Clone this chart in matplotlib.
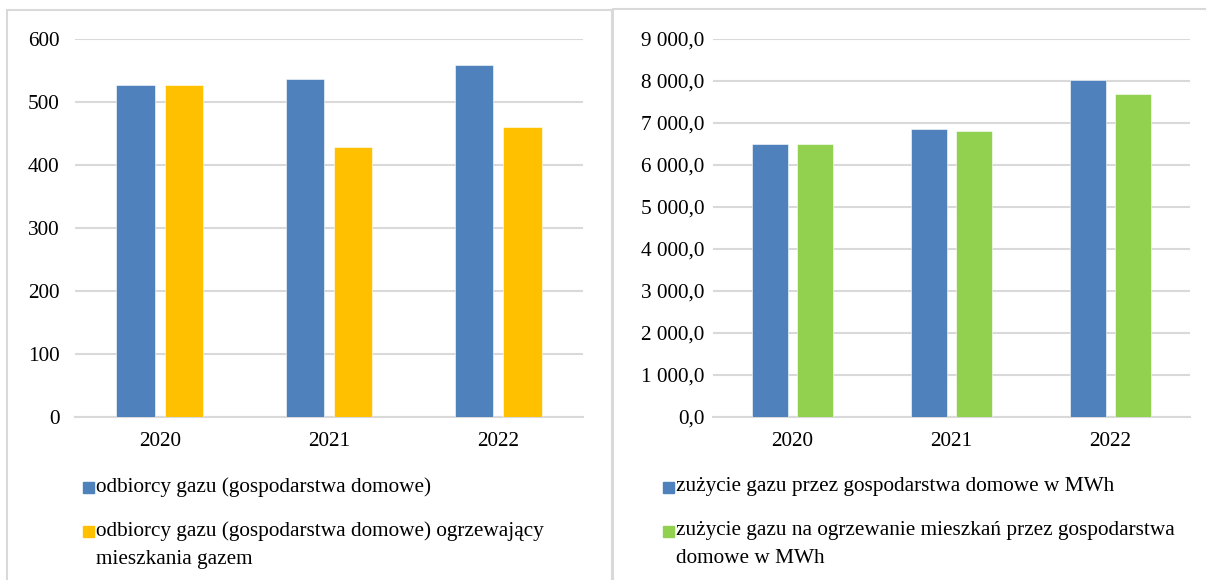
import matplotlib.pyplot as plt
from matplotlib.patches import Rectangle
import numpy as np

# dane
years = ["2020", "2021", "2022"]
odbiorcy = [527, 536, 559]
odbiorcy_ogrz = [527, 429, 460]
zuzycie = [6500, 6860, 8020]
zuzycie_ogrz = [6500, 6820, 7680]

left_labels = ["odbiorcy gazu (gospodarstwa domowe)",
               "odbiorcy gazu (gospodarstwa domowe) ogrzewający\nmieszkania gazem"]
right_labels = ["zużycie gazu przez gospodarstwa domowe w MWh",
                "zużycie gazu na ogrzewanie mieszkań przez gospodarstwa\ndomowe w MWh"]

blue = "#4F81BD"
yellow = "#FFC000"
green = "#92D050"
grid = "#D9D9D9"

plt.rcParams['font.family'] = ['Liberation Serif', 'DejaVu Serif']
plt.rcParams['font.size'] = 15.3

W, H = 1206, 580
fig = plt.figure(figsize=(W / 100, H / 100), dpi=100)


def px_axes(x0, y0, x1, y1):
    # pikselowe wspolrzedne (od gory) -> ulamki figury
    return fig.add_axes([x0 / W, 1 - y1 / H, (x1 - x0) / W, (y1 - y0) / H])


# ramki paneli
fig.patches.append(Rectangle((7 / W, -0.05), 605 / W, 1.05 - 10 / H,
                             transform=fig.transFigure, fill=False,
                             edgecolor=grid, lw=1.5))
fig.patches.append(Rectangle((613 / W, -0.05), 600 / W, 1.05 - 9 / H,
                             transform=fig.transFigure, fill=False,
                             edgecolor=grid, lw=1.5))


def bar_panel(ax, s1, s2, c1, c2, ymax, step, fmt, pad):
    x = np.arange(len(years))
    ax.bar(x - 0.143, s1, width=0.225, color=c1, edgecolor="white", lw=0.4, zorder=3)
    ax.bar(x + 0.143, s2, width=0.225, color=c2, edgecolor="white", lw=0.4, zorder=3)
    ax.set_xlim(-0.5, 2.5)
    ax.set_ylim(0, ymax)
    ticks = np.arange(0, ymax + step / 2, step)
    ax.set_yticks(ticks)
    ax.set_yticklabels([fmt(t) for t in ticks])
    ax.set_xticks(x)
    ax.set_xticklabels(years)
    ax.grid(axis="y", color=grid, lw=1.5, zorder=0)
    for s in ["top", "right", "left"]:
        ax.spines[s].set_visible(False)
    ax.spines["bottom"].set_color(grid)
    ax.spines["bottom"].set_linewidth(1.5)
    ax.tick_params(axis="both", length=0)
    ax.tick_params(axis="y", pad=pad)
    ax.tick_params(axis="x", pad=11)
    ax.patch.set_alpha(0)


def pl_fmt(v):
    return f"{v:,.1f}".replace(",", " ").replace(".", ",")


ax1 = px_axes(75, 39, 583, 417)
bar_panel(ax1, odbiorcy, odbiorcy_ogrz, blue, yellow, 600, 100,
          lambda v: f"{int(v)}", 11)

ax2 = px_axes(713, 39, 1190, 417)
bar_panel(ax2, zuzycie, zuzycie_ogrz, blue, green, 9000, 1000, pl_fmt, 6)


def legend(x, labels, colors):
    ys = [487, 531]
    for lab, col, y in zip(labels, colors, ys):
        fig.patches.append(Rectangle(((x - 13) / W, 1 - (y + 6) / H), 11 / W, 11 / H,
                                     transform=fig.transFigure, color=col))
        fig.text(x / W, 1 - (y - 10) / H, lab, ha="left", va="top",
                 linespacing=1.65)


legend(96, left_labels, [blue, yellow])
legend(676, right_labels, [blue, green])

fig.savefig("out.png", dpi=100)
